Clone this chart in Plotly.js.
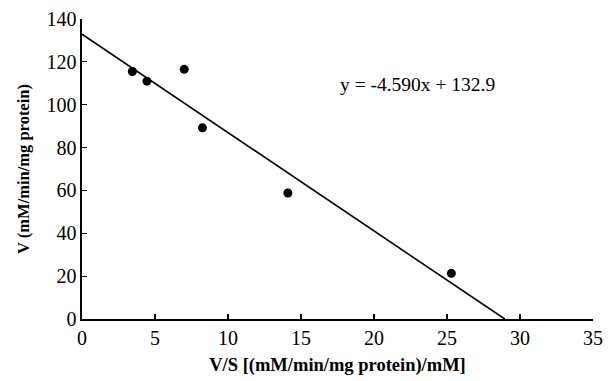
<!DOCTYPE html>
<html>
<head>
<meta charset="utf-8">
<script src="https://cdn.plot.ly/plotly-3.0.1.min.js"></script>
<style>html,body{margin:0;padding:0;background:#fff;}#chart{width:608px;height:381px;}</style>
</head>
<body>
<div id="chart"></div>
<script>
// Observed data (V/S, V)
var vsValues = [3.45, 4.45, 7.0, 8.25, 14.1, 25.3];
var vValues = [115.5, 111.0, 116.5, 89.2, 58.8, 21.3];
// Regression fit: y = slope * x + intercept
var fitSlope = -4.590;
var fitIntercept = 132.9;
var fitLabel = "y = -4.590x + 132.9";
var xTickVals = [0, 5, 10, 15, 20, 25, 30, 35];
var yTickVals = [0, 20, 40, 60, 80, 100, 120, 140];

var xEnd = -fitIntercept / fitSlope;
var fitX = [0, xEnd];
var fitY = fitX.map(function (x) { return fitSlope * x + fitIntercept; });

var serif = "Liberation Serif, Times New Roman, serif";

var traces = [
  {x: fitX, y: fitY, mode: "lines", type: "scatter",
   line: {color: "#000", width: 1.6}, hoverinfo: "skip", cliponaxis: false},
  {x: vsValues, y: vValues, mode: "markers", type: "scatter",
   marker: {color: "#000", size: 9}, cliponaxis: false}
];

var layout = {
  width: 608, height: 381,
  margin: {l: 82, r: 15, t: 19, b: 62},
  paper_bgcolor: "#fff", plot_bgcolor: "#fff",
  showlegend: false,
  font: {family: serif, color: "#000", size: 17},
  xaxis: {
    range: [0, 35], tickvals: xTickVals, ticks: "inside", ticklen: 5,
    tickcolor: "#000", tickwidth: 1.2, showline: true, linecolor: "#000", linewidth: 1.6,
    showgrid: false, zeroline: false, mirror: false,
    tickfont: {family: serif, size: 20, color: "#000"},
    title: {text: "<b>V/S [(mM/min/mg protein)/mM]</b>", font: {family: serif, size: 18.5, color: "#000"}, standoff: 10}
  },
  yaxis: {
    range: [0, 140], tickvals: yTickVals, ticks: "inside", ticklen: 5,
    tickcolor: "#000", tickwidth: 1.2, showline: true, linecolor: "#000", linewidth: 1.6,
    showgrid: false, zeroline: false,
    tickfont: {family: serif, size: 20, color: "#000"},
    title: {text: "<b>V (mM/min/mg protein)</b>", font: {family: serif, size: 16.5, color: "#000"}, standoff: 12}
  },
  annotations: [{
    x: 22.95, y: 109.5, xref: "x", yref: "y", text: fitLabel, showarrow: false,
    font: {family: serif, size: 19.5, color: "#000"}
  }]
};

Plotly.newPlot("chart", traces, layout, {displayModeBar: false, staticPlot: true});
</script>
</body>
</html>
